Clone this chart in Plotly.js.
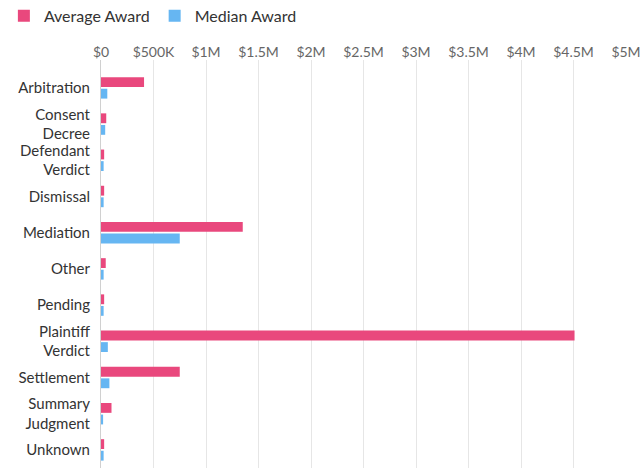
<!DOCTYPE html>
<html>
<head>
<meta charset="utf-8">
<script src="https://cdn.plot.ly/plotly-3.0.1.min.js"></script>
<style>html,body{margin:0;padding:0;background:#fff;}#chart{width:641px;height:468px;}</style>
</head>
<body>
<div id="chart"></div>
<script>
const categories = ["Arbitration","Consent<br>Decree","Defendant<br>Verdict","Dismissal","Mediation","Other","Pending","Plaintiff<br>Verdict","Settlement","Summary<br>Judgment","Unknown"];
const averageAward = [410000, 50000, 30000, 30000, 1350000, 45000, 30000, 4510000, 750000, 100000, 30000];
const medianAward = [60000, 40000, 25000, 25000, 750000, 25000, 25000, 65000, 80000, 20000, 25000];
const tickValues = [0,500000,1000000,1500000,2000000,2500000,3000000,3500000,4000000,4500000,5000000];
const tickLabels = ["$0","$500K","$1M","$1.5M","$2M","$2.5M","$3M","$3.5M","$4M","$4.5M","$5M"];

const traces = [
  {type:'bar', orientation:'h', name:'Average Award', y:categories, x:averageAward,
   marker:{color:'#E9487D'}},
  {type:'bar', orientation:'h', name:'Median Award', y:categories, x:medianAward,
   marker:{color:'#66B6F2'}}
];
const layout = {
  width:641, height:468,
  margin:{l:101, r:15, t:60, b:0, pad:0, autoexpand:false},
  font:{family:'Lato, sans-serif', color:'#333'},
  paper_bgcolor:'#fff', plot_bgcolor:'#fff',
  barmode:'group', bargap:0.36, bargroupgap:0.15,
  showlegend:true,
  legend:{orientation:'h', x:-0.185, xanchor:'left', y:1.15, yanchor:'top',
          font:{size:16, color:'#333'}, itemsizing:'constant', traceorder:'normal'},
  xaxis:{side:'top', range:[0,5000000], tickvals:tickValues, ticktext:tickLabels,
         tickfont:{size:14, color:'#666'}, showgrid:true, gridcolor:'#e6e6e6', gridwidth:1,
         zeroline:false, showline:false, ticks:'', ticklabelstandoff:-1, fixedrange:true, automargin:false},
  yaxis:{type:'category', range:[10.5,-0.77], autorange:false, automargin:false,
         tickfont:{size:15, color:'#333'}, showline:true, linecolor:'#d0d0d0', linewidth:1,
         ticks:'', ticklabelstandoff:7, showgrid:false, zeroline:false}
};
Plotly.newPlot('chart', traces, layout, {displayModeBar:false, staticPlot:true});
</script>
</body>
</html>
